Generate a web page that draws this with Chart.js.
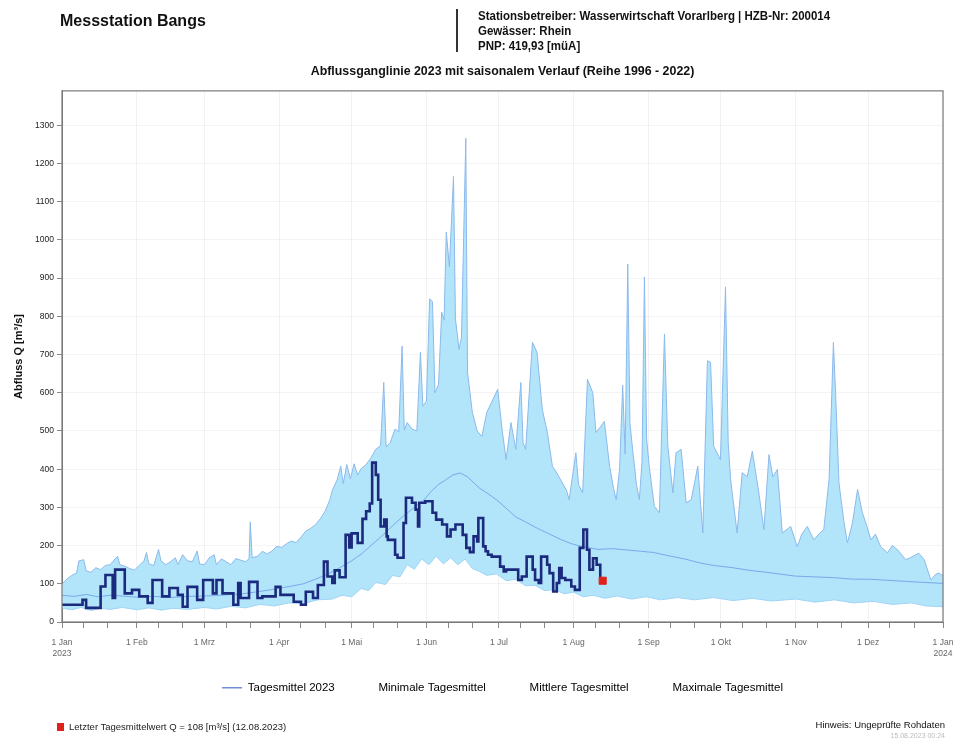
<!DOCTYPE html>
<html>
<head>
<meta charset="utf-8">
<title>Messstation Bangs</title>
<script src="https://cdn.jsdelivr.net/npm/chart.js@4.4.1/dist/chart.umd.min.js"></script>
<style>
  html, body { margin: 0; padding: 0; background: #fff; }
  #wrap { position: relative; width: 957px; height: 741px; overflow: hidden; }
  #chart { position: absolute; left: 0; top: 0; }
  .narrow { font-family: 'Liberation Sans', Arial, sans-serif; }
  #station { position: absolute; left: 60px; top: 12px; font: bold 16px 'Liberation Sans', Arial, sans-serif; color: #111; }
  #bar { position: absolute; left: 456px; top: 9px; width: 2px; height: 43px; background: #333; }
  #info { position: absolute; left: 478px; top: 9px; font-size: 12.5px; font-weight: bold; line-height: 15px; color: #111;
          transform: scaleX(0.92); transform-origin: 0 0; white-space: nowrap; }
  #last { position: absolute; left: 57px; top: 721px; font-size: 9.5px; color: #222; white-space: nowrap; }
  #last .sq { display: inline-block; width: 7px; height: 8px; background: #e0201b; margin-right: 5px; vertical-align: -1px; }
  #hint { position: absolute; right: 12px; top: 719px; font-size: 9.5px; color: #111; }
  #stamp { position: absolute; right: 12px; top: 732px; font-size: 7px; color: #bbb; }
</style>
</head>
<body>
<div id="wrap">
  <canvas id="chart" width="957" height="741"></canvas>
  <div id="station">Messstation Bangs</div>
  <div id="bar"></div>
  <div id="info" class="narrow">Stationsbetreiber: Wasserwirtschaft Vorarlberg | HZB-Nr: 200014<br>Gewässer: Rhein<br>PNP: 419,93 [müA]</div>
  <div id="last" class="narrow"><span class="sq"></span>Letzter Tagesmittelwert Q = 108 [m³/s] (12.08.2023)</div>
  <div id="hint" class="narrow">Hinweis: Ungeprüfte Rohdaten</div>
  <div id="stamp" class="narrow">15.08.2023 00:24</div>
</div>
<script>
// Tag im Jahr (0 = 1. Jan 2023, 365 = 1. Jan 2024) und Abfluss in m³/s

// Maximale Tagesmittel (Reihe 1996 - 2022)
const maxDays = [0, 2, 4, 6, 7, 9, 10, 12, 14, 16, 18, 20, 21, 23, 24, 26, 28, 30, 32, 34, 35, 36, 38, 40, 41, 43, 45, 47, 48, 50,
  52, 54, 56, 57, 59, 61, 63, 64, 66, 68, 70, 72, 74, 76, 77.5, 78, 78.8, 81, 83, 85, 87, 89, 91, 93, 95, 97, 99, 101, 103, 105,
  107, 109, 111, 112, 114, 115.5, 116.5, 118, 119.5, 121, 122.5, 124, 126, 128, 130, 132, 133.3, 134.3, 136, 138, 139.5, 140.9, 141.8, 143, 145, 147, 148.5, 149.5, 151, 152.3,
  153.5, 154.5, 156, 157.3, 158.3, 159.2, 160.5, 162.2, 163, 164.5, 165.5, 167.3, 168, 170, 172, 174, 176, 178, 180.5, 182.4, 184, 186, 188, 190.1, 191, 192.1, 194.9, 196.8, 199, 201.1,
  203.2, 205, 207.3, 209, 210.1, 212.9, 214, 215.7, 217.7, 219.9, 221.2, 223, 224.7, 226.9, 228.5, 229.6, 231, 232.3, 233.3, 234.4, 235.3, 236.4, 238, 239.2, 240.3, 241.3, 242.2, 243.3, 245.4, 247.5,
  249.6, 251, 253.1, 254.4, 256.5, 258.6, 260.7, 263.4, 265.5, 267.4, 268.7, 270, 272.8, 274.9, 276, 277, 279.7, 281.8, 283.9, 286, 288.7, 290.8, 292.9, 294.5, 296.4, 298.4, 301.9, 304.6, 306.5, 308.8,
  311.5, 313.5, 315.6, 317.8, 319.6, 320.5, 321.9, 324, 325.4, 327.5, 329.6, 331.6, 333.5, 335.1, 337, 339.2, 342, 344, 346.2, 348, 349.6, 352, 355, 357.2, 360, 362, 363.4, 365];
const maxQ = [100, 112, 122, 128, 160, 163, 134, 130, 142, 137, 148, 150, 158, 172, 150, 146, 140, 136, 148, 160, 182, 152, 148, 190, 160, 150, 158, 168, 150, 176,
  160, 158, 186, 152, 150, 168, 176, 150, 165, 158, 150, 166, 162, 158, 165, 262, 168, 172, 185, 178, 186, 198, 195, 205, 212, 208, 222, 238, 245, 255,
  270, 290, 320, 345, 372, 408, 362, 412, 375, 414, 385, 402, 412, 430, 452, 462, 627, 458, 470, 505, 498, 722, 502, 522, 505, 500, 706, 565, 578, 846,
  838, 600, 622, 811, 790, 1021, 930, 1166, 793, 714, 745, 1266, 654, 549, 500, 486, 549, 575, 609, 500, 425, 522, 452, 627, 470, 452, 732, 706, 556, 496,
  407, 390, 364, 345, 320, 443, 360, 338, 635, 600, 496, 510, 525, 407, 350, 320, 400, 620, 440, 937, 520, 452, 360, 320, 420, 903, 480, 407, 303, 286,
  754, 460, 338, 443, 452, 312, 320, 408, 233, 684, 680, 460, 425, 877, 470, 373, 233, 391, 380, 447, 338, 242, 438, 380, 399, 233, 250, 197, 230, 250,
  215, 230, 242, 373, 732, 600, 364, 260, 207, 260, 347, 286, 250, 215, 230, 197, 181, 200, 189, 175, 163, 170, 180, 163, 110, 125, 128, 120];

// Mittlere Tagesmittel
const meanDays = [0, 5, 10, 15, 20, 25, 31, 38, 45, 52, 59, 66, 75, 82, 90, 95, 100, 105, 110, 115, 120, 124, 128, 132, 135, 138, 142, 146, 150, 153,
  156, 159, 162, 165, 168, 171, 173, 176, 180, 184, 188, 192, 197, 202, 207, 211, 214, 218, 222, 228, 235, 240, 245, 250, 258, 264, 270, 278, 285, 292,
  298, 304, 312, 320, 328, 334, 340, 348, 356, 365];
const meanQ = [70, 67, 72, 66, 70, 68, 65, 67, 64, 67, 68, 70, 74, 80, 88, 94, 100, 112, 125, 142, 160, 178, 200, 222, 240, 258, 280, 300, 320, 342,
  360, 372, 385, 390, 380, 362, 350, 338, 320, 298, 275, 262, 245, 230, 215, 205, 200, 195, 190, 192, 188, 185, 182, 175, 165, 155, 148, 142, 135, 130,
  125, 120, 118, 116, 112, 112, 110, 107, 104, 101];

// Minimale Tagesmittel
const minDays = [0, 4, 8, 12, 16, 20, 25, 31, 36, 41, 46, 52, 59, 64, 70, 76, 82, 88, 94, 100, 106, 112, 116, 120, 124, 127, 130, 134, 137, 140,
  143, 146, 149, 152, 155, 158, 161, 164, 167, 170, 173, 176, 180, 184, 188, 192, 196, 200, 204, 208, 212, 216, 220, 225, 230, 236, 242, 248, 255, 262,
  270, 278, 286, 294, 304, 312, 320, 328, 336, 344, 352, 358, 365];
const minQ = [36, 32, 38, 30, 36, 33, 38, 32, 37, 31, 36, 33, 38, 34, 41, 37, 46, 42, 50, 48, 58, 60, 70, 66, 88, 82, 104, 98, 122, 118,
  150, 138, 165, 150, 172, 152, 168, 150, 165, 140, 132, 122, 126, 108, 112, 95, 96, 82, 85, 74, 78, 66, 70, 62, 68, 60, 66, 58, 64, 58,
  64, 56, 62, 55, 60, 52, 58, 50, 54, 46, 50, 42, 40];

// Tagesmittel 2023 (Stufenverlauf, Wert gilt ab dem angegebenen Tag)
const days2023 = [0, 8.5, 10, 16, 18, 21, 22, 26, 29, 32, 35.5, 37.5, 41.5, 44.5, 48, 50, 52, 56, 58.5, 62.5, 64, 66.5, 71, 73, 74, 77.5, 81, 83, 88.5, 90.5,
  96, 99, 101, 104, 106, 108.5, 110, 112, 113, 115, 117.5, 119, 120, 122.5, 124.5, 126, 127.5, 128.5, 130, 131, 132, 133.5, 134.5, 135, 138, 139, 141.5, 142.5, 145, 146.5,
  147.5, 148, 150.5, 153.5, 155, 157.5, 159.5, 161, 163, 166, 167.5, 169, 170.5, 172, 172.5, 174.5, 175.5, 176.5, 178, 181.5, 183, 184, 189, 190.5, 192.5, 195, 196, 197.5, 198.5, 201,
  202, 203.5, 205, 206, 207, 208.5, 211, 212.5, 214.5, 216, 217.5, 218.5, 220, 221.5, 223, 223.5];
const q2023 = [45, 58, 37, 93, 123, 63, 137, 75, 84, 67, 50, 110, 67, 89, 71, 40, 92, 58, 110, 75, 110, 75, 45, 102, 63, 105, 63, 67, 92, 71,
  53, 45, 79, 63, 97, 158, 119, 102, 135, 117, 228, 195, 232, 207, 270, 290, 310, 417, 385, 320, 250, 268, 224, 215, 176, 168, 259, 325, 312, 294,
  250, 312, 316, 286, 268, 255, 224, 242, 255, 228, 194, 183, 224, 211, 272, 198, 185, 176, 171, 145, 132, 137, 110, 119, 171, 137, 110, 102, 171, 150,
  128, 80, 102, 141, 115, 110, 93, 84, 194, 242, 189, 137, 167, 150, 119, 119];

// Letzter Tagesmittelwert (12.08.2023)
const lastDay = 224;
const lastQ = 108;

// Achsen
const monthStarts = [0, 31, 59, 90, 120, 151, 181, 212, 243, 273, 304, 334, 365];
const monthLabels = [['1 Jan', '2023'], '1 Feb', '1 Mrz', '1 Apr', '1 Mai', '1 Jun', '1 Jul', '1 Aug', '1 Sep', '1 Okt', '1 Nov', '1 Dez', ['1 Jan', '2024']];
const yTicks = [0, 100, 200, 300, 400, 500, 600, 700, 800, 900, 1000, 1100, 1200, 1300];
const legendLabels = ['Tagesmittel 2023', 'Minimale Tagesmittel', 'Mittlere Tagesmittel', 'Maximale Tagesmittel'];

const SANS = "'Liberation Sans', Arial, sans-serif";

const toPoints = (xs, ys) => xs.map((x, i) => ({ x: x, y: ys[i] }));

// Tick-Positionen: Monatsanfang sowie 10. und 20. des Monats
const xTickValues = [];
monthStarts.forEach((m, i) => {
  xTickValues.push(m);
  if (i < monthStarts.length - 1) { xTickValues.push(m + 9, m + 19); }
});

// Rahmen um die Zeichenfläche
const framePlugin = {
  id: 'frame',
  afterDatasetsDraw(chart) {
    const { ctx, chartArea: a } = chart;
    ctx.save();
    ctx.strokeStyle = '#7a7a7a';
    ctx.lineWidth = 1.2;
    ctx.strokeRect(a.left, a.top, a.right - a.left, a.bottom - a.top);
    ctx.restore();
  }
};

const ctx = document.getElementById('chart').getContext('2d');

new Chart(ctx, {
  type: 'line',
  data: {
    datasets: [
      {
        label: 'Letzter Tagesmittelwert',
        type: 'scatter',
        data: [{ x: lastDay, y: lastQ }],
        pointStyle: 'rect',
        pointRadius: 5,
        backgroundColor: '#e0201b',
        borderColor: '#e0201b',
        order: -1
      },
      {
        label: 'Tagesmittel 2023',
        data: toPoints(days2023, q2023),
        borderColor: '#1b2a7c',
        borderWidth: 2.6,
        stepped: true,
        pointRadius: 0,
        fill: false,
        order: 0
      },
      {
        label: 'Mittlere Tagesmittel',
        data: toPoints(meanDays, meanQ),
        borderColor: 'rgba(105, 155, 230, 0.8)',
        borderWidth: 1,
        pointRadius: 0,
        fill: false,
        order: 1
      },
      {
        label: 'Minimale Tagesmittel',
        data: toPoints(minDays, minQ),
        borderColor: 'rgb(160, 212, 245)',
        borderWidth: 1,
        pointRadius: 0,
        fill: false,
        order: 2
      },
      {
        label: 'Maximale Tagesmittel',
        data: toPoints(maxDays, maxQ),
        borderColor: 'rgb(140, 185, 235)',
        borderWidth: 1,
        backgroundColor: 'rgb(178, 228, 250)',
        pointRadius: 0,
        fill: 3,
        order: 3
      }
    ]
  },
  options: {
    responsive: false,
    animation: false,
    layout: { padding: { top: 62, left: 12, right: 14, bottom: 37.5 } },
    scales: {
      x: {
        type: 'linear',
        min: 0,
        max: 365,
        afterBuildTicks: (scale) => { scale.ticks = xTickValues.map(v => ({ value: v })); },
        afterFit: (scale) => { scale.height = 42; scale.paddingLeft = 0; scale.paddingRight = 0; },
        border: { display: true, color: '#7a7a7a' },
        grid: {
          color: (c) => (c.tick && monthStarts.includes(c.tick.value)) ? 'rgba(0, 0, 0, 0.05)' : 'rgba(0, 0, 0, 0)',
          tickColor: '#888',
          tickLength: 6
        },
        ticks: {
          autoSkip: false,
          maxRotation: 0,
          padding: 10,
          color: '#666',
          font: { family: SANS, size: 8.5 },
          callback: (value) => {
            const i = monthStarts.indexOf(value);
            return i >= 0 ? monthLabels[i] : '';
          }
        }
      },
      y: {
        min: 0,
        max: 1390,
        afterBuildTicks: (scale) => { scale.ticks = yTicks.map(v => ({ value: v })); },
        afterFit: (scale) => { scale.width = 50; },
        border: { display: true, color: '#7a7a7a' },
        grid: { color: 'rgba(0, 0, 0, 0.045)', tickColor: '#888', tickLength: 5 },
        ticks: {
          padding: 3,
          color: '#222',
          font: { family: SANS, size: 8.5 },
          callback: (value) => String(value)
        },
        title: {
          display: true,
          text: 'Abfluss Q [m³/s]',
          color: '#111',
          font: { family: SANS, size: 11, weight: 'bold' },
          padding: { top: 0, bottom: 0 }
        }
      }
    },
    plugins: {
      title: {
        display: true,
        fullSize: false,
        text: 'Abflussganglinie 2023 mit saisonalem Verlauf (Reihe 1996 - 2022)',
        color: '#111',
        font: { family: SANS, size: 12.4, weight: 'bold' },
        padding: { top: 2, bottom: 12 }
      },
      legend: {
        position: 'bottom',
        fullSize: false,
        labels: {
          usePointStyle: true,
          pointStyleWidth: 20,
          padding: 18,
          color: '#222',
          font: { family: SANS, size: 11.5 },
          generateLabels: () => legendLabels.map((t, i) => ({
            text: t,
            fillStyle: i === 0 ? '#6f8fd8' : 'rgba(0, 0, 0, 0)',
            strokeStyle: i === 0 ? '#6f8fd8' : 'rgba(0, 0, 0, 0)',
            lineWidth: i === 0 ? 1.5 : 0,
            pointStyle: 'line',
            hidden: false,
            datasetIndex: i + 1
          }))
        }
      },
      tooltip: { enabled: false }
    }
  },
  plugins: [framePlugin]
});
</script>
</body>
</html>
